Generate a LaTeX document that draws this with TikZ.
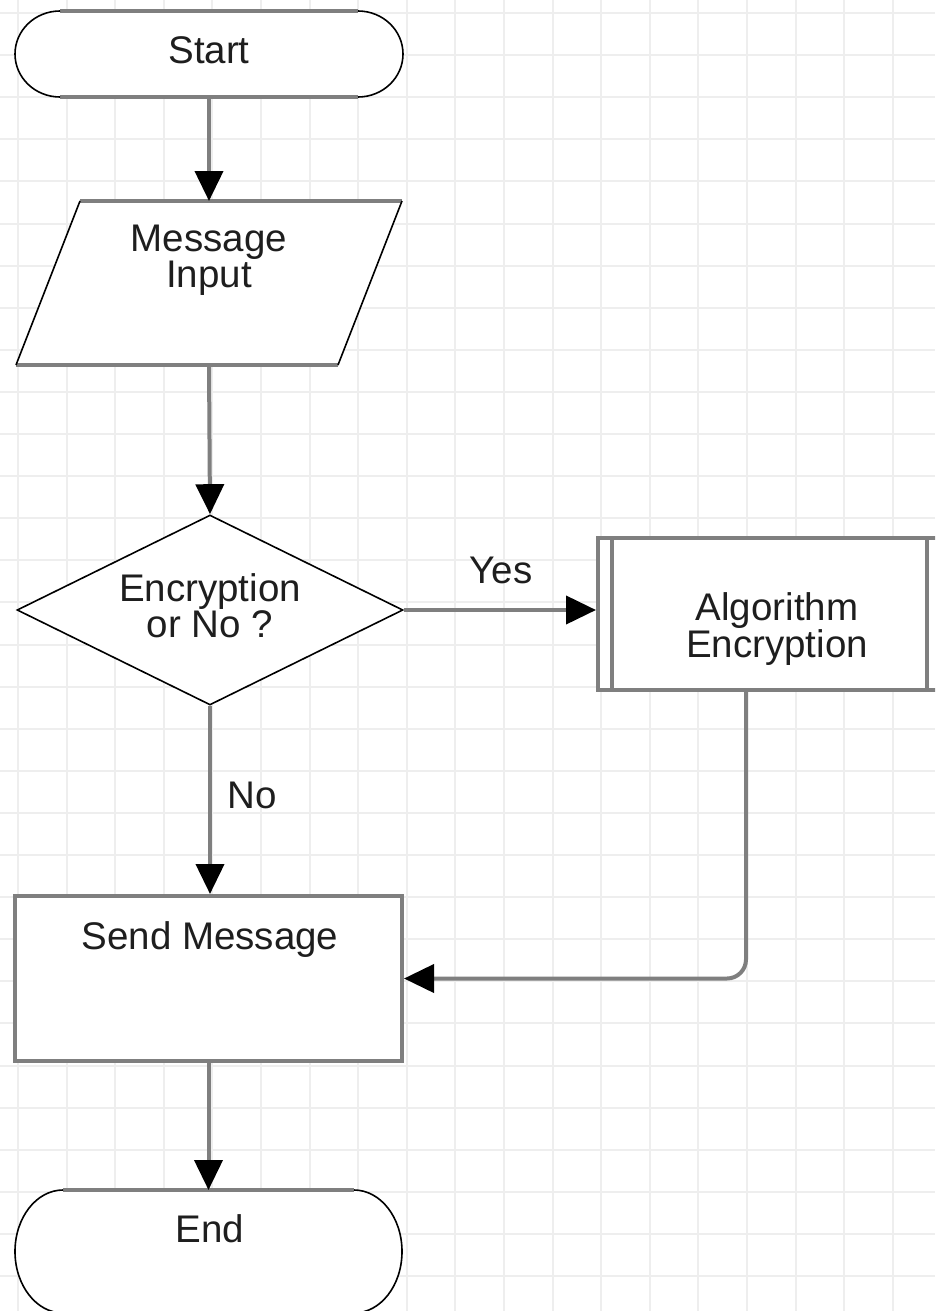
\documentclass[tikz,border=0pt]{standalone}
\usepackage{fontspec}
\setmainfont{Liberation Sans}
\usetikzlibrary{arrows.meta,shapes.geometric}
\definecolor{lgray}{HTML}{7F7F7F}
\definecolor{gridc}{HTML}{EEEEEE}
\definecolor{tcol}{HTML}{1E1E1E}
\begin{document}
\begin{tikzpicture}[x=1pt,y=-1pt,
  grayedge/.style={draw=lgray, line width=4pt},
  blackedge/.style={draw=black, line width=1.6pt},
  box/.style={draw=none, inner sep=0pt, outer sep=0pt, rectangle},
  conn/.style={draw=lgray, line width=4pt, -{Triangle[length=30pt,width=28pt,color=black]}},
  lbl/.style={font=\fontsize{38.5}{34}\selectfont, text=tcol, inner sep=0pt, align=center, anchor=base}]

\useasboundingbox (0,0) rectangle (935,1311);
\clip (0,0) rectangle (935,1311);
\fill[white] (0,0) rectangle (935,1311);
\foreach \i in {0,...,19} \draw[gridc, line width=2pt] ({18+48.6*\i},0) -- ({18+48.6*\i},1311);
\foreach \j in {0,...,30} \draw[gridc, line width=2pt] (0,{13+42.1*\j}) -- (935,{13+42.1*\j});

% nodes
\node[box, minimum width=388pt, minimum height=86pt] (start) at (209,54) {};
\node[box, minimum width=386pt, minimum height=164pt] (inp) at (209,283) {};
\node[diamond, draw=black, line width=1.6pt, fill=white, inner sep=0pt, minimum width=386pt, minimum height=190pt] (dec) at (210,610) {};
\node[rectangle, grayedge, fill=white, inner sep=0pt, minimum width=343pt, minimum height=152pt] (alg) at (769.5,614) {};
\node[rectangle, grayedge, fill=white, inner sep=0pt, minimum width=387pt, minimum height=165pt] (snd) at (208.5,978.5) {};
\node[box, minimum width=387pt, minimum height=123pt] (endn) at (208.5,1251.5) {};

% start terminal outline
\fill[white] ([xshift=45pt]start.north west) -- ([xshift=-45pt]start.north east) arc[start angle=-90, end angle=90, x radius=45, y radius=43] -- ([xshift=45pt]start.south west) arc[start angle=90, end angle=270, x radius=45, y radius=43] -- cycle;
\draw[grayedge] ([xshift=45pt]start.north west) -- ([xshift=-45pt]start.north east);
\draw[grayedge] ([xshift=45pt]start.south west) -- ([xshift=-45pt]start.south east);
\draw[blackedge] ([xshift=-45pt]start.north east) arc[start angle=-90, end angle=90, x radius=45, y radius=43];
\draw[blackedge] ([xshift=45pt]start.south west) arc[start angle=90, end angle=270, x radius=45, y radius=43];

% input parallelogram
\fill[white] ([xshift=64pt]inp.north west) -- (inp.north east) -- ([xshift=-64pt]inp.south east) -- (inp.south west) -- cycle;
\draw[grayedge] ([xshift=64pt]inp.north west) -- (inp.north east);
\draw[grayedge] (inp.south west) -- ([xshift=-64pt]inp.south east);
\draw[blackedge] ([xshift=64pt]inp.north west) -- (inp.south west);
\draw[blackedge] (inp.north east) -- ([xshift=-64pt]inp.south east);

% predefined process inner lines
\draw[grayedge] ([xshift=16pt]alg.north west) -- ([xshift=16pt]alg.south west);
\draw[grayedge] ([xshift=-16pt]alg.north east) -- ([xshift=-16pt]alg.south east);

% end terminal outline
\fill[white] ([xshift=48pt]endn.north west) -- ([xshift=-48pt]endn.north east) arc[start angle=-90, end angle=90, x radius=48, y radius=61.5] -- ([xshift=48pt]endn.south west) arc[start angle=90, end angle=270, x radius=48, y radius=61.5] -- cycle;
\draw[grayedge] ([xshift=48pt]endn.north west) -- ([xshift=-48pt]endn.north east);
\draw[grayedge] ([xshift=48pt]endn.south west) -- ([xshift=-48pt]endn.south east);
\draw[blackedge] ([xshift=-48pt]endn.north east) arc[start angle=-90, end angle=90, x radius=48, y radius=61.5];
\draw[blackedge] ([xshift=48pt]endn.south west) arc[start angle=90, end angle=270, x radius=48, y radius=61.5];

% connectors
\draw[conn] (start.south) -- (inp.north);
\draw[conn] (inp.south) -- (dec.north);
\draw[conn] (dec.east) -- (dec.east -| alg.west);
\draw[conn] (dec.south) -- (dec.south |- snd.north);
\coordinate (algout) at ([xshift=-23.5pt]alg.south);
\draw[conn, rounded corners=19pt] (algout) |- (snd.east);
\draw[conn] (snd.south) -- (endn.north);

% labels (base anchor = baseline of the last line)
\node[lbl] (tstart) at (209,64) {Start};
\node[lbl] (tinp) at (209,287) {Message\\Input};
\node[lbl] (tdec) at (210,637) {Encryption\\or No ?};
\node[lbl] (tyes) at (501,583) {Yes};
\node[lbl] (talg) at (777,657) {Algorithm\\Encryption};
\node[lbl] (tno) at (252,808) {No};
\node[lbl] (tsnd) at (210,949) {Send Message};
\node[lbl] (tend) at (210,1242) {End};
\end{tikzpicture}
\end{document}
